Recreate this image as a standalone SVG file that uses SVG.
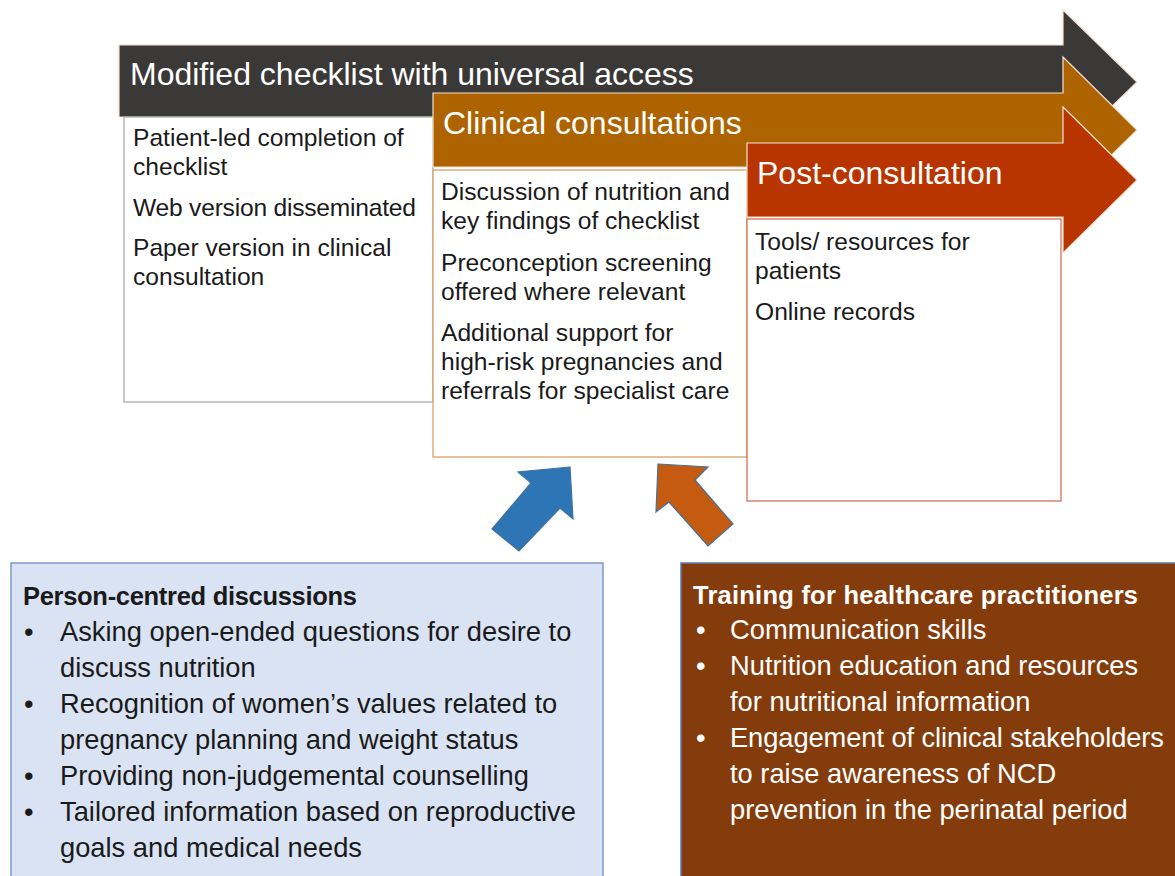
<svg xmlns="http://www.w3.org/2000/svg" width="1175" height="876" viewBox="0 0 1175 876">
  <style>
    text { font-family: "Liberation Sans", Arial, sans-serif; }
    .hdr { font-size: 32px; fill: #ffffff; }
    .body { font-size: 24.6px; fill: #1a1a1a; }
    .btm { font-size: 27.3px; fill: #1a1a1a; }
    .btmw { font-size: 27.3px; fill: #ffffff; }
    .bold { font-weight: bold; font-size: 25.5px; }
    .arrowOutline { stroke: #f3e1d2; stroke-width: 1.2; }
  </style>
  <rect width="1175" height="876" fill="#ffffff"/>

  <!-- Stage 1: modified checklist -->
  <g id="stage-checklist">
    <path class="arrowOutline" d="M119,45 H1063 V10 L1137,82 L1063,154 V117 H119 Z" fill="#3b3838"/>
    <text class="hdr" x="130" y="85">Modified checklist with universal access</text>
    <rect x="124" y="117" width="309" height="285" fill="#ffffff" stroke="#a6a6a6" stroke-width="1.2"/>
    <text class="body" x="133" y="146">Patient-led completion of</text>
    <text class="body" x="133" y="175">checklist</text>
    <text class="body" x="133" y="216" textLength="283">Web version disseminated</text>
    <text class="body" x="133" y="256">Paper version in clinical</text>
    <text class="body" x="133" y="285">consultation</text>
  </g>

  <!-- Stage 2: clinical consultations -->
  <g id="stage-clinical">
    <path class="arrowOutline" d="M433,93 H1063 V57 L1137,130 L1063,203 V167 H433 Z" fill="#ad6400"/>
    <text class="hdr" x="443" y="134">Clinical consultations</text>
    <rect x="433" y="170" width="314" height="287" fill="#ffffff" stroke="#d49a5c" stroke-width="1.2"/>
    <text class="body" x="441" y="200" textLength="289">Discussion of nutrition and</text>
    <text class="body" x="441" y="229">key findings of checklist</text>
    <text class="body" x="441" y="271">Preconception screening</text>
    <text class="body" x="441" y="300">offered where relevant</text>
    <text class="body" x="441" y="341">Additional support for</text>
    <text class="body" x="441" y="370">high-risk pregnancies and</text>
    <text class="body" x="441" y="399">referrals for specialist care</text>
  </g>

  <!-- Stage 3: post-consultation -->
  <g id="stage-post">
    <path class="arrowOutline" d="M747,143 H1063 V107 L1137,180 L1063,253 V217 H747 Z" fill="#b83500"/>
    <text class="hdr" x="757" y="184">Post-consultation</text>
    <rect x="747" y="219" width="314" height="282" fill="#ffffff" stroke="#d0694a" stroke-width="1.2"/>
    <text class="body" x="755" y="250">Tools/ resources for</text>
    <text class="body" x="755" y="279">patients</text>
    <text class="body" x="755" y="320">Online records</text>
  </g>

  <!-- Inputs feeding into the clinical consultation -->
  <g id="connectors">
    <path d="M570,467 L518,472 L531,483 L492,529 L519,551 L560,508 L573,519 Z" fill="#2e75b6" stroke="#41719c" stroke-width="1.2" stroke-linejoin="miter"/>
    <path d="M658,464 L708,467 L695,480 L733,524 L708,546 L669,502 L656,512 Z" fill="#c55a11" stroke="#41719c" stroke-width="1.2" stroke-linejoin="miter"/>
  </g>

  <!-- Person-centred discussions -->
  <g id="box-person-centred">
    <rect x="11" y="563" width="592" height="330" fill="#dae3f3" stroke="#7f9bc9" stroke-width="1.5"/>
    <text class="btm bold" x="23" y="605" textLength="334">Person-centred discussions</text>
    <text class="btm" x="24" y="641">•</text>
    <text class="btm" x="60" y="641">Asking open-ended questions for desire to</text>
    <text class="btm" x="60" y="677">discuss nutrition</text>
    <text class="btm" x="24" y="713">•</text>
    <text class="btm" x="60" y="713">Recognition of women’s values related to</text>
    <text class="btm" x="60" y="749">pregnancy planning and weight status</text>
    <text class="btm" x="24" y="785">•</text>
    <text class="btm" x="60" y="785">Providing non-judgemental counselling</text>
    <text class="btm" x="24" y="821">•</text>
    <text class="btm" x="60" y="821">Tailored information based on reproductive</text>
    <text class="btm" x="60" y="857">goals and medical needs</text>
  </g>

  <!-- Training for healthcare practitioners -->
  <g id="box-training">
    <rect x="681" y="563" width="510" height="330" fill="#843c0c" stroke="#5b7bb0" stroke-width="1.5"/>
    <text class="btmw bold" x="693" y="604" textLength="445">Training for healthcare practitioners</text>
    <text class="btmw" x="696" y="639">•</text>
    <text class="btmw" x="730" y="639">Communication skills</text>
    <text class="btmw" x="696" y="675">•</text>
    <text class="btmw" x="730" y="675">Nutrition education and resources</text>
    <text class="btmw" x="730" y="711">for nutritional information</text>
    <text class="btmw" x="696" y="747">•</text>
    <text class="btmw" x="730" y="747" textLength="434">Engagement of clinical stakeholders</text>
    <text class="btmw" x="730" y="783">to raise awareness of NCD</text>
    <text class="btmw" x="730" y="819">prevention in the perinatal period</text>
  </g>
</svg>
